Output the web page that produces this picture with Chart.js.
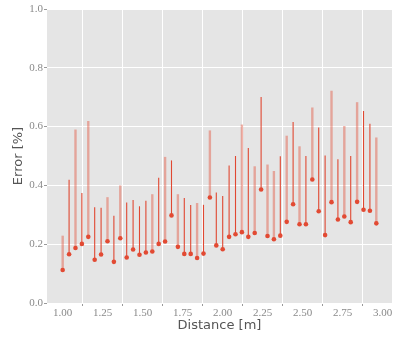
<!DOCTYPE html>
<html>
<head>
<meta charset="utf-8">
<script src="https://cdn.jsdelivr.net/npm/chart.js@4"></script>
<style>
  html, body { margin: 0; padding: 0; background: #fff; }
  canvas { display: block; }
</style>
</head>
<body>
<canvas id="myChart" width="407" height="337"></canvas>
<script>
// Distancias (m) de cada medición
const distancia = [1.00, 1.04, 1.08, 1.12, 1.16, 1.20, 1.24, 1.28, 1.32, 1.36,
                   1.40, 1.44, 1.48, 1.52, 1.56, 1.60, 1.64, 1.68, 1.72, 1.76,
                   1.80, 1.84, 1.88, 1.92, 1.96, 2.00, 2.04, 2.08, 2.12, 2.16,
                   2.20, 2.24, 2.28, 2.32, 2.36, 2.40, 2.44, 2.48, 2.52, 2.56,
                   2.60, 2.64, 2.68, 2.72, 2.76, 2.80, 2.84, 2.88, 2.92, 2.96];

// Error medio (punto)
const errorMedio = [0.112, 0.166, 0.187, 0.201, 0.225, 0.147, 0.165, 0.210, 0.140, 0.220,
                    0.155, 0.182, 0.164, 0.172, 0.175, 0.201, 0.209, 0.298, 0.191, 0.167,
                    0.167, 0.153, 0.168, 0.359, 0.196, 0.183, 0.225, 0.234, 0.241, 0.225,
                    0.238, 0.386, 0.228, 0.217, 0.229, 0.276, 0.336, 0.268, 0.268, 0.420,
                    0.312, 0.231, 0.343, 0.284, 0.294, 0.275, 0.344, 0.317, 0.314, 0.271];

// Error máximo (extremo superior de la línea)
const errorMax = [0.229, 0.419, 0.590, 0.374, 0.619, 0.326, 0.324, 0.360, 0.297, 0.400,
                  0.342, 0.350, 0.329, 0.348, 0.370, 0.426, 0.497, 0.485, 0.370, 0.357,
                  0.333, 0.340, 0.334, 0.587, 0.376, 0.364, 0.468, 0.500, 0.607, 0.527,
                  0.465, 0.701, 0.471, 0.449, 0.499, 0.569, 0.616, 0.533, 0.500, 0.665,
                  0.597, 0.502, 0.722, 0.489, 0.602, 0.500, 0.683, 0.653, 0.610, 0.563];

// Tipo de línea: 'a' = fina, 'b' = ancha
const tipo = ['b', 'a', 'b', 'a', 'b', 'a', 'a', 'b', 'a', 'b',
              'a', 'a', 'a', 'a', 'b', 'a', 'b', 'a', 'b', 'a',
              'a', 'b', 'a', 'b', 'a', 'a', 'a', 'a', 'b', 'a',
              'b', 'a', 'b', 'b', 'a', 'b', 'a', 'b', 'a', 'b',
              'a', 'a', 'b', 'a', 'b', 'a', 'b', 'a', 'a', 'b'];

const ticksX = [1.00, 1.25, 1.50, 1.75, 2.00, 2.25, 2.50, 2.75, 3.00];
const ticksY = [0.0, 0.2, 0.4, 0.6, 0.8, 1.0];

const rojo = '#E24A33';

const lineas = (t) => distancia
    .map((x, i) => ({ x: x, y: [errorMedio[i], errorMax[i]], t: tipo[i] }))
    .filter(p => p.t === t);

// Fondo gris del área del gráfico
const fondo = {
    id: 'fondo',
    beforeDraw(chart) {
        const { ctx, chartArea: a } = chart;
        ctx.save();
        ctx.fillStyle = '#E5E5E5';
        ctx.fillRect(a.left, a.top, a.right - a.left, a.bottom - a.top);
        ctx.restore();
    }
};

const ctx = document.getElementById('myChart').getContext('2d');

const myChart = new Chart(ctx, {
    type: 'bar',
    data: {
        datasets: [
            {
                type: 'scatter',
                data: distancia.map((x, i) => ({ x: x, y: errorMedio[i] })),
                backgroundColor: rojo,
                borderWidth: 0,
                pointRadius: 2.3,
                order: 0
            },
            {
                type: 'bar',
                data: lineas('a'),
                backgroundColor: '#E04832',
                barThickness: 1.1,
                inflateAmount: 0,
                grouped: false,
                order: 1
            },
            {
                type: 'bar',
                data: lineas('b'),
                backgroundColor: 'rgba(226, 74, 51, 0.42)',
                barThickness: 2.4,
                inflateAmount: 0,
                grouped: false,
                order: 2
            }
        ]
    },
    options: {
        responsive: false,
        animation: false,
        devicePixelRatio: 1,
        layout: { padding: { top: 9, right: 15, left: 0, bottom: 0 } },
        plugins: {
            legend: { display: false },
            tooltip: { enabled: false }
        },
        scales: {
            x: {
                type: 'linear',
                offset: false,
                min: 0.902,
                max: 3.058,
                afterFit: (s) => { s.height = 34; },
                afterBuildTicks: (s) => { s.ticks = ticksX.map(v => ({ value: v })); },
                ticks: {
                    callback: (v) => v.toFixed(2),
                    color: '#8a8a8a',
                    padding: 1,
                    maxRotation: 0,
                    font: { family: 'Liberation Serif', size: 11 }
                },
                grid: { color: '#ffffff', lineWidth: 1, tickColor: '#999', tickLength: 3 },
                border: { display: false },
                title: {
                    display: true,
                    text: 'Distance [m]',
                    color: '#555',
                    padding: { top: 0, bottom: 4 },
                    font: { family: 'DejaVu Sans', size: 13 }
                }
            },
            y: {
                min: 0,
                max: 1,
                afterFit: (s) => { s.width = 47; },
                afterBuildTicks: (s) => { s.ticks = ticksY.map(v => ({ value: v })); },
                ticks: {
                    callback: (v) => v.toFixed(1),
                    color: '#8a8a8a',
                    padding: 1,
                    font: { family: 'Liberation Serif', size: 11 }
                },
                grid: { color: '#ffffff', lineWidth: 1, tickColor: '#999', tickLength: 3 },
                border: { display: false },
                title: {
                    display: true,
                    text: 'Error [%]',
                    color: '#555',
                    padding: { top: 11, bottom: 0 },
                    font: { family: 'DejaVu Sans', size: 13 }
                }
            }
        }
    },
    plugins: [fondo]
});
</script>
</body>
</html>
